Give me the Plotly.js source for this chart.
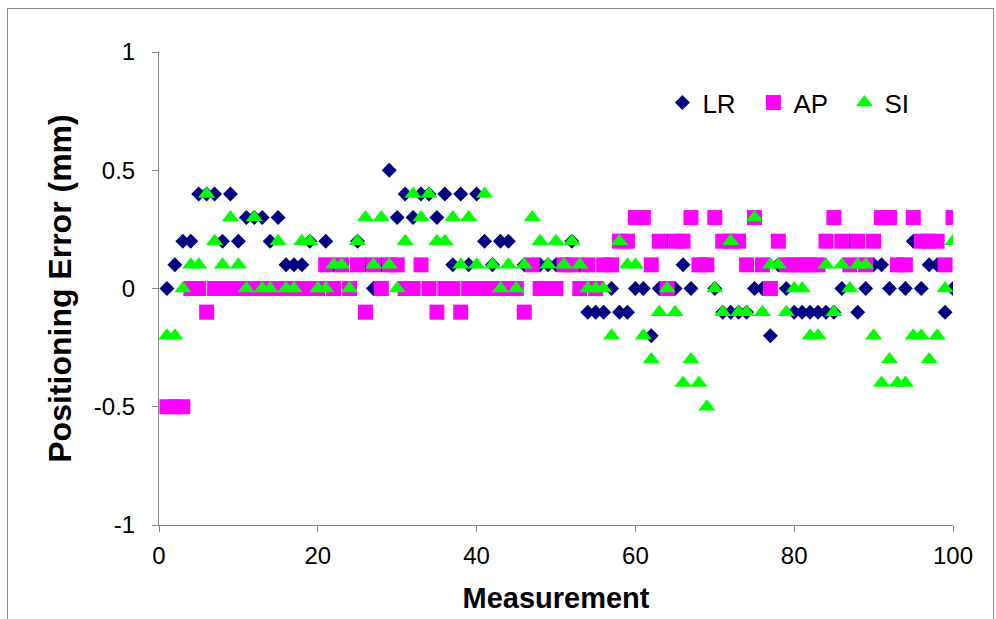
<!DOCTYPE html>
<html>
<head>
<meta charset="utf-8">
<script src="https://cdn.plot.ly/plotly-3.0.1.min.js"></script>
<style>
  html, body { margin: 0; padding: 0; background: #fff; }
  #wrap { position: relative; width: 996px; height: 619px; overflow: hidden; }
  #chart { width: 996px; height: 619px; }
  #frame { position: absolute; left: 7px; top: 8px; width: 985px; height: 640px;
           border: 1px solid #8a8a8a; pointer-events: none; }
</style>
</head>
<body>
<div id="wrap"><div id="chart"></div><div id="frame"></div></div>
<script>
const measurement = [1,2,3,4,5,6,7,8,9,10,11,12,13,14,15,16,17,18,19,20,
  21,22,23,24,25,26,27,28,29,30,31,32,33,34,35,36,37,38,39,40,
  41,42,43,44,45,46,47,48,49,50,51,52,53,54,55,56,57,58,59,60,
  61,62,63,64,65,66,67,68,69,70,71,72,73,74,75,76,77,78,79,80,
  81,82,83,84,85,86,87,88,89,90,91,92,93,94,95,96,97,98,99,100];

const LR = [0,0.1,0.2,0.2,0.4,0.4,0.4,0.2,0.4,0.2,
  0.3,0.3,0.3,0.2,0.3,0.1,0.1,0.1,0.2,0,
  0.2,0.1,0.1,0,0.2,0.1,0,0.1,0.5,0.3,
  0.4,0.3,0.4,0.4,0.3,0.4,0.1,0.4,0.1,0.4,
  0.2,0.1,0.2,0.2,0,0.1,0.1,0.1,0.1,0.1,
  0.1,0.2,0.1,-0.1,-0.1,-0.1,0,-0.1,-0.1,0,
  0,-0.2,0,0.2,0,0.1,0,0.1,0.1,0,
  -0.1,-0.1,-0.1,-0.1,0,0,-0.2,0.1,0,-0.1,
  -0.1,-0.1,-0.1,-0.1,-0.1,0,0.2,-0.1,0,0.1,
  0.1,0,0.1,0,0.2,0,0.1,0.1,-0.1,0];

const AP = [-0.5,-0.5,-0.5,0,0,-0.1,0,0,0,0,
  0,0,0,0,0,0,0,0,0,0,
  0.1,0,0.1,0,0.1,-0.1,0.1,0,0.1,0.1,
  0,0,0.1,0,-0.1,0,0,-0.1,0,0,
  0,0,0,0,0,-0.1,0.1,0,0,0,
  0.1,0.1,0,0.1,0,0.1,0.1,0.2,0.2,0.3,
  0.3,0.1,0.2,0,0.2,0.2,0.3,0.1,0.1,0.3,
  0.2,0.2,0.2,0.1,0.3,0.1,0,0.2,0.1,0.1,
  0.1,0.1,0.1,0.2,0.3,0.2,0.1,0.2,0.1,0.2,
  0.3,0.3,0.1,0.1,0.3,0.2,0.2,0.2,0.1,0.3];

const SI = [-0.2,-0.2,0,0.1,0.1,0.4,0.2,0.1,0.3,0.1,
  0,0.3,0,0,0.2,0,0,0.2,0.2,0,
  0,0.1,0.1,0,0.2,0.3,0.1,0.3,0.1,0,
  0.2,0.4,0.3,0.4,0.2,0.2,0.3,0.1,0.3,0.1,
  0.4,0.1,0,0.1,0,0.1,0.3,0.2,0.1,0.2,
  0.1,0.2,0.1,0,0,0,-0.2,0.2,0.1,0.1,
  -0.2,-0.3,-0.1,0,-0.1,-0.4,-0.3,-0.4,-0.5,0,
  -0.1,0.2,-0.1,-0.1,0.3,-0.1,0.1,0.1,-0.1,0,
  0,-0.2,-0.2,0.1,-0.1,0.1,0,0.1,0.1,-0.2,
  -0.4,-0.3,-0.4,-0.4,-0.2,-0.2,-0.3,-0.2,0,0.2];

const seriesNames = ['LR', 'AP', 'SI'];
const xTicks = [0, 20, 40, 60, 80, 100];
const yTicks = [-1, -0.5, 0, 0.5, 1];
const yTickText = ['-1', '-0.5', '0', '0.5', '1'];

const FONT = 'Liberation Sans, Arial, sans-serif';

const traces = [
  { x: measurement, y: LR, name: seriesNames[0], type: 'scatter', mode: 'markers',
    marker: { symbol: 'diamond', size: 11.5, color: '#000080', line: { width: 0 } } },
  { x: measurement, y: AP, name: seriesNames[1], type: 'scatter', mode: 'markers',
    marker: { symbol: 'square', size: 15, color: '#FF00FF', line: { width: 0 } } },
  { x: measurement, y: SI, name: seriesNames[2], type: 'scatter', mode: 'markers',
    marker: { symbol: 'triangle-up', size: 15, color: '#00FF00', line: { width: 0 } } }
];

const layout = {
  width: 996, height: 619,
  margin: { l: 159, r: 43, t: 52, b: 94, pad: 0 },
  paper_bgcolor: '#ffffff', plot_bgcolor: '#ffffff',
  font: { family: FONT, color: '#000000' },
  showlegend: true,
  legend: {
    orientation: 'h', x: 0.634, y: 0.893, xanchor: 'left', yanchor: 'middle',
    font: { family: FONT, size: 26, color: '#000' },
    bgcolor: 'rgba(0,0,0,0)', itemwidth: 30, entrywidth: 46, tracegroupgap: 0
  },
  xaxis: {
    range: [0, 100], tickvals: xTicks, ticktext: xTicks.map(String),
    showline: true, linecolor: '#868686', linewidth: 1,
    ticks: 'outside', ticklen: 6, tickcolor: '#868686', tickwidth: 1,
    showgrid: false, zeroline: false, fixedrange: true, automargin: false,
    ticklabelstandoff: 3,
    tickfont: { family: FONT, size: 24, color: '#000' },
    title: { text: 'Measurement', standoff: 19,
             font: { family: FONT, size: 29, color: '#000', weight: 'bold' } }
  },
  yaxis: {
    range: [-1, 1], tickvals: yTicks, ticktext: yTickText,
    showline: true, linecolor: '#868686', linewidth: 1,
    ticks: 'outside', ticklen: 6, tickcolor: '#868686', tickwidth: 1,
    showgrid: false, zeroline: false, fixedrange: true, automargin: false,
    ticklabelstandoff: 12,
    tickfont: { family: FONT, size: 24, color: '#000' },
    title: { text: 'Positioning Error (mm)', standoff: 12,
             font: { family: FONT, size: 32, color: '#000', weight: 'bold' } }
  }
};

Plotly.newPlot('chart', traces, layout, { displayModeBar: false, staticPlot: true });
</script>
</body>
</html>
